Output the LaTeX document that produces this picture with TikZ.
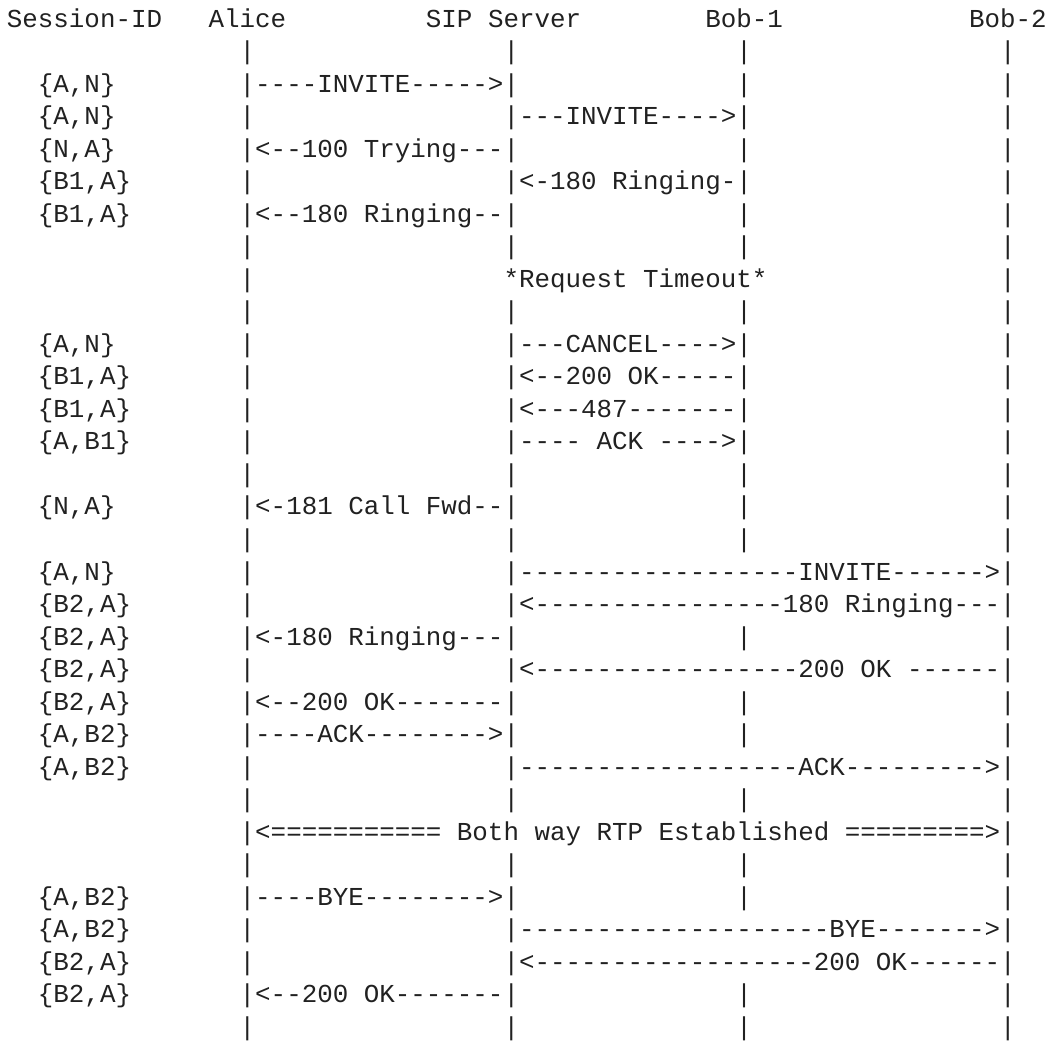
\documentclass[tikz,border=0pt]{standalone}
\usepackage{fontspec}
\setmonofont{Liberation Mono}
% blank run of n character cells
\newcommand\gapch[1]{\kern#1\fontcharwd\font`0\relax}
\begin{document}
\begin{tikzpicture}[x=1pt, y=-1pt]
  % Colors
  \definecolor{inkcol}{RGB}{33,33,33}
  %
  \def\lh{12.578}
  \def\lx{2.47}
  \def\ly{10.44}
  \def\lanes{\gapch{15}|\gapch{16}|\gapch{14}|\gapch{16}|}
  %
  \tikzset{
    rowtext/.style={anchor=base west, inner sep=0pt, text=inkcol,
                    font=\ttfamily\fontsize{10pt}{12pt}\selectfont},
  }
  %
  \useasboundingbox (0,0) rectangle (408.7,402.5);
  %
  %%% CALL FLOW, one row per text line %%%
  \foreach \n/\txt in {
    1/{Session-ID\gapch{3}Alice\gapch{9}SIP Server\gapch{8}Bob-1\gapch{12}Bob-2},
    2/{\lanes},
    3/{\gapch{2}\{A,N\}\gapch{8}|----INVITE----->|\gapch{14}|\gapch{16}|},
    4/{\gapch{2}\{A,N\}\gapch{8}|\gapch{16}|---INVITE---->|\gapch{16}|},
    5/{\gapch{2}\{N,A\}\gapch{8}|<--100 Trying---|\gapch{14}|\gapch{16}|},
    6/{\gapch{2}\{B1,A\}\gapch{7}|\gapch{16}|<-180 Ringing-|\gapch{16}|},
    7/{\gapch{2}\{B1,A\}\gapch{7}|<--180 Ringing--|\gapch{14}|\gapch{16}|},
    8/{\lanes},
    9/{\gapch{15}|\gapch{16}*Request Timeout*\gapch{15}|},
    10/{\lanes},
    11/{\gapch{2}\{A,N\}\gapch{8}|\gapch{16}|---CANCEL---->|\gapch{16}|},
    12/{\gapch{2}\{B1,A\}\gapch{7}|\gapch{16}|<--200 OK-----|\gapch{16}|},
    13/{\gapch{2}\{B1,A\}\gapch{7}|\gapch{16}|<---487-------|\gapch{16}|},
    14/{\gapch{2}\{A,B1\}\gapch{7}|\gapch{16}|---- ACK ---->|\gapch{16}|},
    15/{\lanes},
    16/{\gapch{2}\{N,A\}\gapch{8}|<-181 Call Fwd--|\gapch{14}|\gapch{16}|},
    17/{\lanes},
    18/{\gapch{2}\{A,N\}\gapch{8}|\gapch{16}|------------------INVITE------>|},
    19/{\gapch{2}\{B2,A\}\gapch{7}|\gapch{16}|<----------------180 Ringing---|},
    20/{\gapch{2}\{B2,A\}\gapch{7}|<-180 Ringing---|\gapch{14}|\gapch{16}|},
    21/{\gapch{2}\{B2,A\}\gapch{7}|\gapch{16}|<-----------------200 OK ------|},
    22/{\gapch{2}\{B2,A\}\gapch{7}|<--200 OK-------|\gapch{14}|\gapch{16}|},
    23/{\gapch{2}\{A,B2\}\gapch{7}|----ACK-------->|\gapch{14}|\gapch{16}|},
    24/{\gapch{2}\{A,B2\}\gapch{7}|\gapch{16}|------------------ACK--------->|},
    25/{\lanes},
    26/{\gapch{15}|<=========== Both way RTP Established =========>|},
    27/{\lanes},
    28/{\gapch{2}\{A,B2\}\gapch{7}|----BYE-------->|\gapch{14}|\gapch{16}|},
    29/{\gapch{2}\{A,B2\}\gapch{7}|\gapch{16}|--------------------BYE------->|},
    30/{\gapch{2}\{B2,A\}\gapch{7}|\gapch{16}|<------------------200 OK------|},
    31/{\gapch{2}\{B2,A\}\gapch{7}|<--200 OK-------|\gapch{14}|\gapch{16}|},
    32/{\lanes}%
  } {
    \node[rowtext] (row\n) at (\lx, {\ly+(\n-1)*\lh}) {\txt};
  }
\end{tikzpicture}
\end{document}
